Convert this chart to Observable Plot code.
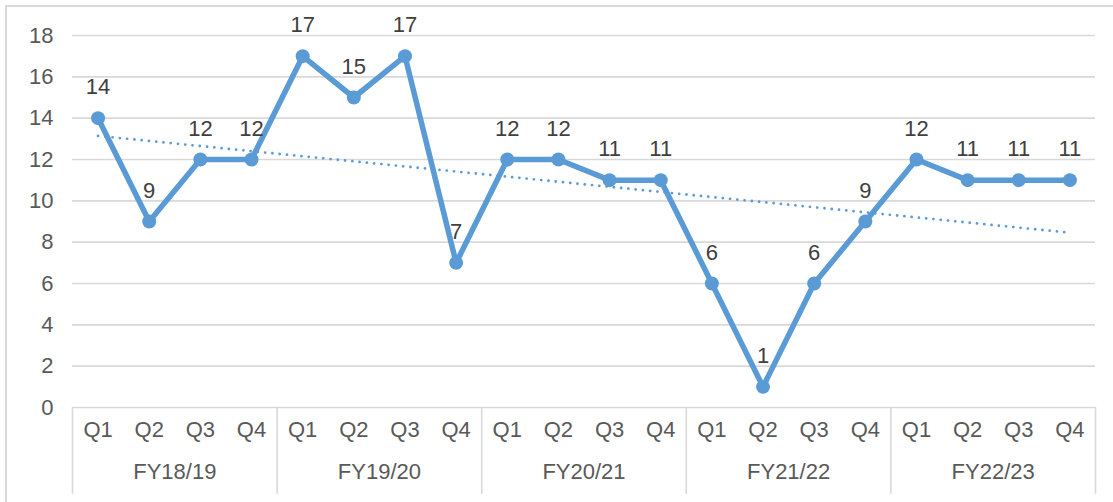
<!DOCTYPE html>
<html>
<head>
<meta charset="utf-8">
<script src="https://cdn.jsdelivr.net/npm/d3@7"></script>
<script src="https://cdn.jsdelivr.net/npm/@observablehq/plot@0.6"></script>
<style>
  html, body { margin: 0; padding: 0; background: #fff; overflow: hidden; }
  #wrap { position: relative; width: 1113px; height: 502px; overflow: hidden; }
  #border { position: absolute; left: 5px; top: 5px; width: 2000px; height: 2000px;
            border-top: 2px solid #d9d9d9; border-left: 2px solid #d9d9d9; }
  #chart { position: absolute; left: 0; top: 0; }
</style>
</head>
<body>
<div id="wrap"><div id="border"></div><div id="chart"></div></div>
<script>
const years = ["FY18/19", "FY19/20", "FY20/21", "FY21/22", "FY22/23"];
const quarters = ["Q1", "Q2", "Q3", "Q4"];
const values = [14, 9, 12, 12, 17, 15, 17, 7, 12, 12, 11, 11, 6, 1, 6, 9, 12, 11, 11, 11];
const yTicks = [0, 2, 4, 6, 8, 10, 12, 14, 16, 18];

const data = values.map((v, k) => ({
  i: k + 1,
  v,
  q: quarters[k % 4],
  fy: years[Math.floor(k / 4)]
}));
const groups = years.map((fy, g) => ({fy, center: g * 4 + 2.5}));
const seps = d3.range(years.length + 1).map(g => g * 4 + 0.5);

const blue = "#5B9BD5";
const font = "'Liberation Sans', Arial, sans-serif";
const fs = 22;

const plot = Plot.plot({
  width: 1113,
  height: 502,
  marginLeft: 72,
  marginRight: 18,
  marginTop: 35,
  marginBottom: 95,
  style: {fontFamily: font, fontSize: fs + "px", color: "#595959", background: "transparent"},
  x: {type: "linear", domain: [0.5, 20.5], axis: null},
  y: {domain: [0, 18], ticks: yTicks, label: null},
  marks: [
    Plot.gridY(yTicks, {stroke: "#d9d9d9", strokeOpacity: 1, strokeWidth: 1.6}),
    Plot.axisY(yTicks, {tickSize: 0, tickPadding: 19, label: null, fontSize: fs, fill: "#595959"}),
    Plot.ruleX(seps, {x: d => d, y1: 0, y2: -4.2, stroke: "#d9d9d9", strokeWidth: 1.6}),
    Plot.text(data, {x: "i", text: "q", frameAnchor: "bottom", dy: 29, fontSize: fs, fill: "#595959"}),
    Plot.text(groups, {x: "center", text: "fy", frameAnchor: "bottom", dy: 71, fontSize: fs, fill: "#595959"}),
    Plot.linearRegressionY(data, {x: "i", y: "v", ci: 0, stroke: blue, strokeWidth: 2.8,
      strokeDasharray: "0 7.3", strokeLinecap: "round"}),
    Plot.line(data, {x: "i", y: "v", stroke: blue, strokeWidth: 5.5, strokeLinejoin: "round"}),
    Plot.dot(data, {x: "i", y: "v", r: 7, fill: blue, stroke: "none"}),
    Plot.text(data, {x: "i", y: "v", text: d => String(d.v), dy: -31, fontSize: fs, fill: "#404040"})
  ]
});
document.getElementById("chart").appendChild(plot);
</script>
</body>
</html>
